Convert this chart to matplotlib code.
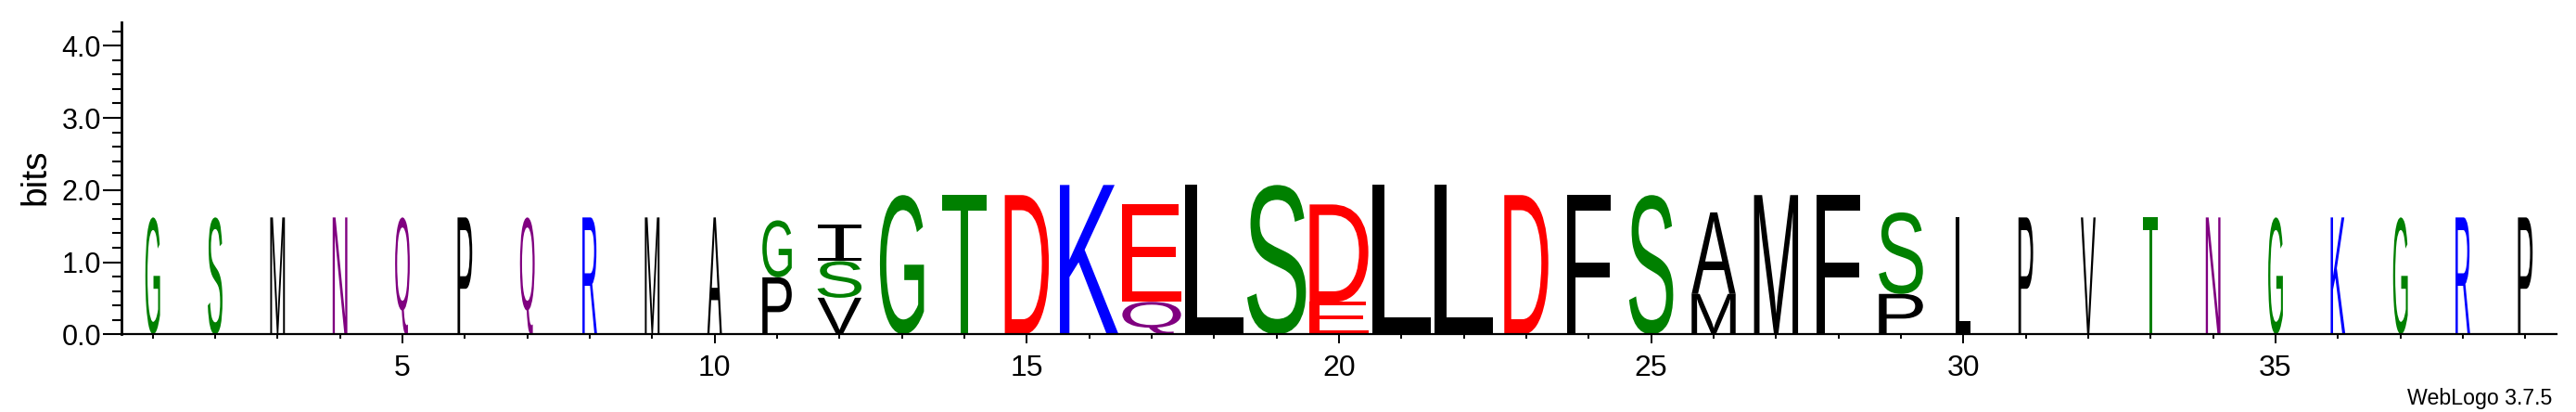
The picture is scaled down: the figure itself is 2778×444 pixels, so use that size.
import matplotlib
matplotlib.use("Agg")
import matplotlib.pyplot as plt
from matplotlib.font_manager import FontProperties
from matplotlib.textpath import TextPath
from matplotlib.patches import PathPatch
from matplotlib.path import Path
from matplotlib.transforms import Affine2D
from matplotlib.ticker import FixedLocator, MultipleLocator

# ---------------------------------------------------------------------------
# Logo data (letters listed bottom -> top within each stack)
# ---------------------------------------------------------------------------
positions = list(range(1, 40))
stack_letters = ["G", "S", "M", "N", "Q", "P", "Q", "R", "M", "A",
                 "PG", "VSI", "G", "T", "D", "K", "QE", "L", "S", "ED",
                 "L", "L", "D", "F", "S", "MA", "M", "F", "PS", "L",
                 "P", "V", "T", "N", "G", "K", "G", "R", "P"]
stack_bits = [[1.62], [1.62], [1.62], [1.62], [1.62], [1.62], [1.62], [1.62], [1.62], [1.62],
              [0.79, 0.79], [0.507, 0.507, 0.507], [1.93], [1.93], [1.93], [2.07],
              [0.45, 1.35], [2.07], [2.07], [0.45, 1.35],
              [2.07], [2.07], [1.93], [1.93], [1.93], [0.56, 1.13], [1.93], [1.93],
              [0.56, 1.13], [1.62],
              [1.62], [1.62], [1.62], [1.62], [1.62], [1.62], [1.62], [1.62], [1.62]]
# number of (non-gap) sequences in each column -> stack width
n_seqs = [1, 1, 1, 1, 1, 1, 1, 1, 1, 1,
          2, 3, 3, 3, 3, 4, 4, 4, 4, 4,
          4, 4, 3, 3, 3, 3, 3, 3, 3, 1,
          1, 1, 1, 1, 1, 1, 1, 1, 1]
n_total = 4

x_ticklabels = [5, 10, 15, 20, 25, 30, 35]
y_ticklabels = ["0.0", "1.0", "2.0", "3.0", "4.0"]

# WebLogo "chemistry" colour scheme
chem_colors = {}
for aa in "GSTYC":
    chem_colors[aa] = "#008000"
for aa in "NQ":
    chem_colors[aa] = "#800080"
for aa in "KRH":
    chem_colors[aa] = "#0000ff"
for aa in "DE":
    chem_colors[aa] = "#ff0000"
for aa in "PAWFLIMV":
    chem_colors[aa] = "#000000"

TEXT_FONT = ["Liberation Sans", "DejaVu Sans"]
glyph_font = FontProperties(family="Liberation Sans")


def serif_i_path():
    """WebLogo draws I with bars top and bottom; the sans glyph is just a block."""
    bar, stem = 0.09, 0.2
    s0, s1 = 0.5 - stem / 2, 0.5 + stem / 2
    verts = [(0, 0), (1, 0), (1, bar), (s1, bar), (s1, 1 - bar), (1, 1 - bar),
             (1, 1), (0, 1), (0, 1 - bar), (s0, 1 - bar), (s0, bar), (0, bar), (0, 0)]
    codes = [Path.MOVETO] + [Path.LINETO] * 11 + [Path.CLOSEPOLY]
    return Path(verts, codes)


def draw_letter(ax, ch, xc, y0, width, height, color):
    """Stretch the glyph bounding box of `ch` into the given data box."""
    if ch == "I":
        tp = serif_i_path()
    else:
        tp = TextPath((0, 0), ch, size=1, prop=glyph_font)
    bb = tp.get_extents()
    tr = (Affine2D()
          .translate(-bb.x0, -bb.y0)
          .scale(width / bb.width, height / bb.height)
          .translate(xc - width / 2, y0))
    patch = PathPatch(tr.transform_path(tp), facecolor=color,
                      edgecolor="none", lw=0)
    ax.add_patch(patch)


fig = plt.figure(figsize=(27.78, 4.44), dpi=100)
ax = fig.add_axes([0.04716, 0.18851, 0.94528, 0.75654])

for pos, letters, bits, n in zip(positions, stack_letters, stack_bits, n_seqs):
    w = 0.94 * n / n_total
    y = 0.0
    for ch, h in zip(letters, bits):
        draw_letter(ax, ch, pos, y, w, h, chem_colors[ch])
        y += h

ax.set_xlim(0.5, 39.5)
ax.set_ylim(0, 4.32)

for side in ("top", "right"):
    ax.spines[side].set_visible(False)
ax.spines["left"].set_linewidth(2.0)
ax.spines["bottom"].set_linewidth(1.6)

ax.xaxis.set_major_locator(FixedLocator(x_ticklabels))
ax.xaxis.set_minor_locator(FixedLocator(positions))
ax.set_xticklabels([str(v) for v in x_ticklabels])
ax.yaxis.set_major_locator(FixedLocator([0, 1, 2, 3, 4]))
ax.yaxis.set_minor_locator(MultipleLocator(0.2))
ax.set_yticklabels(y_ticklabels)

ax.tick_params(axis="x", which="major", direction="out", length=7.2, width=1.4,
               pad=8.5, labelsize=23)
ax.tick_params(axis="x", which="minor", direction="out", length=3.6, width=1.4)
ax.tick_params(axis="y", which="major", direction="out", length=14.4, width=1.5,
               pad=1.5, labelsize=22)
ax.tick_params(axis="y", which="minor", direction="out", length=7.2, width=1.5)
for lab in ax.get_xticklabels() + ax.get_yticklabels():
    lab.set_family(TEXT_FONT)

fig.text(38 / 2778, 1 - 191 / 444, "bits", rotation=90, ha="center", va="center",
         fontsize=28, family=TEXT_FONT)
fig.text(2752 / 2778, 1 - 435.7 / 444, "WebLogo 3.7.5", ha="right", va="baseline",
         fontsize=16.7, family=TEXT_FONT)

fig.savefig("out.png", dpi=100)
